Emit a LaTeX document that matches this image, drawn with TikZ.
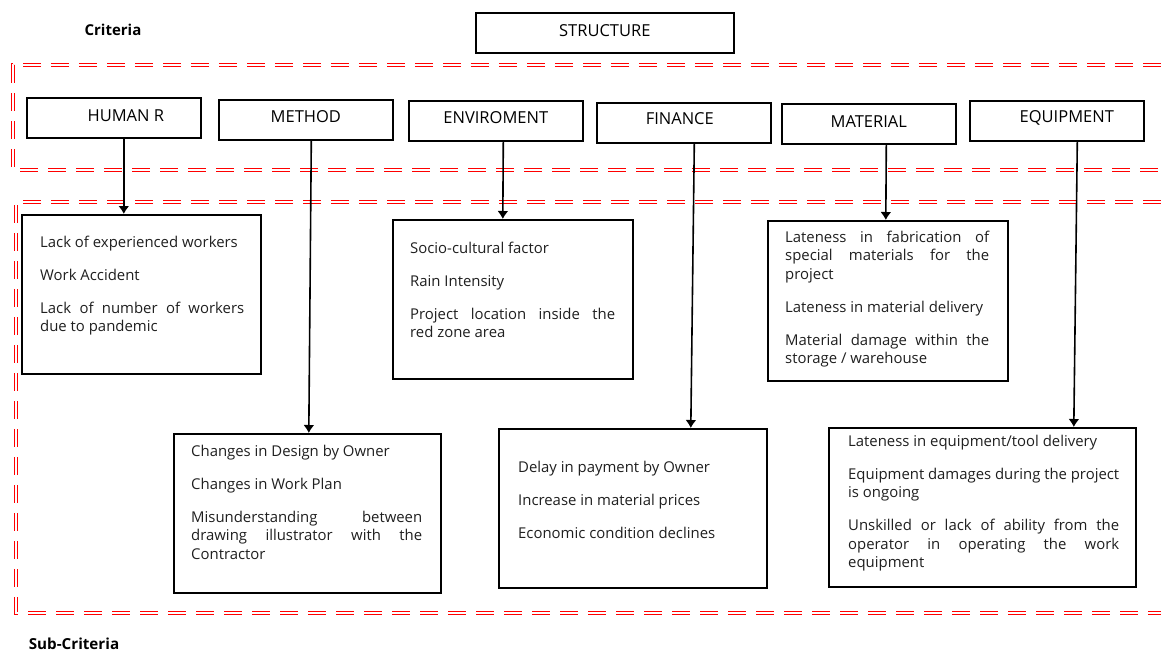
\documentclass[tikz,border=0pt]{standalone}
\usepackage{fontspec}
\setmainfont{Open Sans}
\usetikzlibrary{arrows.meta}

\begin{document}
\begin{tikzpicture}[x=1pt,y=-1pt,
  critbox/.style={draw, line width=1.6pt, minimum width=174pt, minimum height=40pt, inner sep=0pt, anchor=north west},
  crittext/.style={inner sep=0pt, font=\fontsize{16.5}{19}\selectfont},
  subbox/.style={draw, line width=1.6pt, inner sep=0pt, minimum height=159pt, anchor=north west},
  subtext/.style={anchor=north west, inner sep=0pt, align=justify, text=black!88, font=\fontsize{14.9}{18.3}\selectfont},
  arr/.style={-{Latex[length=8pt,width=11pt]}, line width=1.6pt},
  zone/.style={draw=red, double=white, double distance=1.2pt, line width=1.1pt, dash pattern=on 18pt off 10pt}]
%\draw[help lines] (0,0) grid (1161,653);
\useasboundingbox (0,0) rectangle (1161,653);

% red zones
\draw[zone] (1161,65) -- (13,65) -- (13,170) -- (1161,170);
\draw[zone] (1161,202) -- (16,202) -- (16,613) -- (1161,613);

\node[inner sep=0pt, font=\bfseries\fontsize{15}{17}\selectfont] (crit) at (113,30) {Criteria};
\node[inner sep=0pt, font=\bfseries\fontsize{15.2}{17}\selectfont] (subcrit) at (74,644) {Sub-Criteria};

% criteria
\node[critbox, minimum width=258pt] (struct) at (475,12) {};
\node[crittext] (structlbl) at ([yshift=2pt]struct.center) {STRUCTURE};

\node[critbox] (hr) at (26,97) {};
\node[crittext] (hrlbl) at ([xshift=12pt,yshift=2pt]hr.center) {HUMAN R};
\node[critbox] (meth) at (218,99) {};
\node[crittext] (methlbl) at ([yshift=3pt]meth.center) {METHOD};
\node[critbox] (env) at (408,100) {};
\node[crittext] (envlbl) at ([yshift=3pt]env.center) {ENVIROMENT};
\node[critbox] (fin) at (596,102) {};
\node[crittext] (finlbl) at ([xshift=-4pt,yshift=4pt]fin.center) {FINANCE};
\node[critbox] (mat) at (781,103) {};
\node[crittext] (matlbl) at ([yshift=2pt]mat.center) {MATERIAL};
\node[critbox] (equip) at (969,100) {};
\node[crittext] (equiplbl) at ([xshift=10pt,yshift=3pt]equip.center) {EQUIPMENT};

% sub-criteria
\node[subbox, minimum width=239pt] (hrsub) at (21,214) {};
\node[subtext, text width=204pt] (hrtxt) at (40,236) {Lack of experienced workers\par\vspace{14.7pt}
  Work Accident\par\vspace{14.7pt}
  Lack of number of workers\linebreak due to pandemic};

\node[subbox, minimum width=240pt] (envsub) at (392,219) {};
\node[subtext, text width=205pt] (envtxt) at (410,242) {Socio-cultural factor\par\vspace{14.7pt}
  Rain Intensity\par\vspace{14.7pt}
  Project location inside the\linebreak red zone area};

\node[subbox, minimum width=240pt, minimum height=160pt] (matsub) at (767,220) {};
\node[subtext, text width=204pt] (mattxt) at (785,231) {Lateness in fabrication of\linebreak special materials for the\linebreak project\par\vspace{14.7pt}
  Lateness in material delivery\par\vspace{14.7pt}
  Material damage within the\linebreak storage / warehouse};

\node[subbox, minimum width=267pt] (methsub) at (173,433) {};
\node[subtext, text width=231pt] (methtxt) at (191,445) {Changes in Design by Owner\par\vspace{14.7pt}
  Changes in Work Plan\par\vspace{14.7pt}
  Misunderstanding between\linebreak drawing illustrator with the\linebreak Contractor};

\node[subbox, minimum width=268pt] (finsub) at (498,428) {};
\node[subtext, text width=231pt] (fintxt) at (518,461) {Delay in payment by Owner\par\vspace{14.7pt}
  Increase in material prices\par\vspace{14.7pt}
  Economic condition declines};

\node[subbox, minimum width=307pt] (equipsub) at (828,427) {};
\node[subtext, text width=271pt] (equiptxt) at (848,435) {Lateness in equipment/tool delivery\par\vspace{14.7pt}
  Equipment damages during the project\linebreak is ongoing\par\vspace{14.7pt}
  Unskilled or lack of ability from the\linebreak operator in operating the work\linebreak equipment};

% arrows
\draw[arr] ([xshift=10pt]hr.south) -- ([xshift=-17.5pt]hrsub.north);
\draw[arr] ([xshift=5.5pt]meth.south) -- ([xshift=1.5pt]methsub.north);
\draw[arr] ([xshift=7.5pt]env.south) -- ([xshift=-10pt]envsub.north);
\draw[arr] ([xshift=10.5pt]fin.south) -- ([xshift=58pt]finsub.north);
\draw[arr] ([xshift=17.5pt]mat.south) -- ([xshift=-2pt]matsub.north);
\draw[arr] ([xshift=20.5pt]equip.south) -- ([xshift=91.5pt]equipsub.north);
\end{tikzpicture}
\end{document}
